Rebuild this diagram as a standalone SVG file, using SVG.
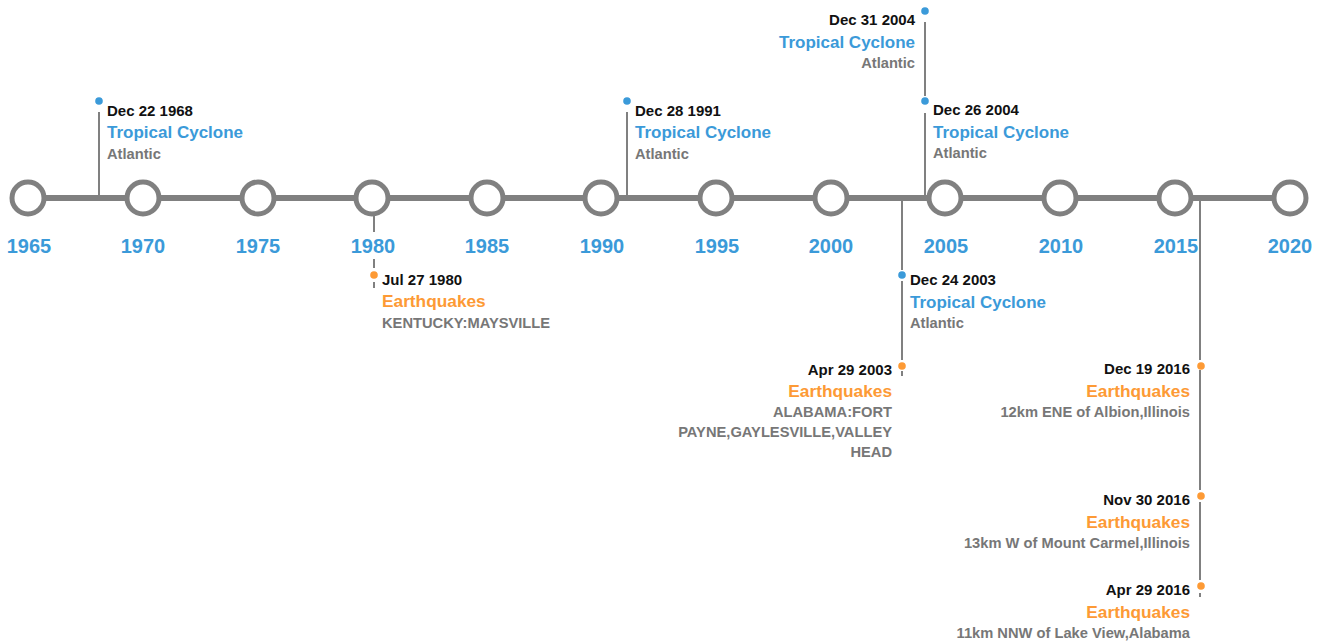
<svg xmlns="http://www.w3.org/2000/svg" width="1325" height="644" viewBox="0 0 1325 644">
<style>
text{font-family:"Liberation Sans",Arial,Helvetica,sans-serif;font-weight:bold}
.yr{font-size:20px;fill:#3b9ad9;text-anchor:middle}
.dt{font-size:15px;fill:#111}
.tb{font-size:17px;fill:#3b9ad9}
.to{font-size:17.3px;fill:#fd9a35}
.sb{font-size:14.7px;fill:#777}
.r{text-anchor:end}
.ring{fill:#fff;stroke:#808080;stroke-width:5}
.conn{stroke:#808080;stroke-width:2;fill:none}
.db{fill:#3b9ad9}
.do{fill:#fd9a35}
</style>
<rect width="1325" height="644" fill="#fff"/>
<g id="connectors">
<line class="conn" x1="99" y1="112" x2="99" y2="198"/>
<line class="conn" x1="627" y1="112" x2="627" y2="198"/>
<line class="conn" x1="374" y1="198" x2="374" y2="232"/>
<line class="conn" x1="374" y1="259" x2="374" y2="268"/>
<line class="conn" x1="374" y1="282" x2="374" y2="288"/>
<line class="conn" x1="902" y1="198" x2="902" y2="270"/>
<line class="conn" x1="902" y1="281" x2="902" y2="360"/>
<line class="conn" x1="902" y1="371" x2="902" y2="376"/>
<line class="conn" x1="925" y1="22" x2="925" y2="96"/>
<line class="conn" x1="925" y1="113" x2="925" y2="198"/>
<line class="conn" x1="1200" y1="195" x2="1200" y2="360"/>
<line class="conn" x1="1200" y1="370" x2="1200" y2="490"/>
<line class="conn" x1="1200" y1="502" x2="1200" y2="580"/>
<line class="conn" x1="1200" y1="593" x2="1200" y2="597"/>
</g>
<g id="axis">
<line x1="28" y1="198" x2="1290" y2="198" stroke="#808080" stroke-width="6"/>
<circle class="ring" cx="28" cy="198" r="16"/>
<circle class="ring" cx="143" cy="198" r="16"/>
<circle class="ring" cx="258" cy="198" r="16"/>
<circle class="ring" cx="372" cy="198" r="16"/>
<circle class="ring" cx="487" cy="198" r="16"/>
<circle class="ring" cx="601" cy="198" r="16"/>
<circle class="ring" cx="716" cy="198" r="16"/>
<circle class="ring" cx="831" cy="198" r="16"/>
<circle class="ring" cx="945" cy="198" r="16"/>
<circle class="ring" cx="1060" cy="198" r="16"/>
<circle class="ring" cx="1175" cy="198" r="16"/>
<circle class="ring" cx="1290" cy="198" r="16"/>
<text class="yr" x="29" y="253">1965</text>
<text class="yr" x="143" y="253">1970</text>
<text class="yr" x="258" y="253">1975</text>
<text class="yr" x="373" y="253">1980</text>
<text class="yr" x="487" y="253">1985</text>
<text class="yr" x="602" y="253">1990</text>
<text class="yr" x="717" y="253">1995</text>
<text class="yr" x="831" y="253">2000</text>
<text class="yr" x="946" y="253">2005</text>
<text class="yr" x="1061" y="253">2010</text>
<text class="yr" x="1176" y="253">2015</text>
<text class="yr" x="1290" y="253">2020</text>
</g>
<g id="ev-1968">
<circle class="db" cx="99" cy="101" r="3.8"/>
<text class="dt" x="107" y="116">Dec 22 1968</text>
<text class="tb" x="107" y="138">Tropical Cyclone</text>
<text class="sb" x="107" y="159">Atlantic</text>
</g>
<g id="ev-1980">
<circle class="do" cx="374" cy="275" r="3.8"/>
<text class="dt" x="382" y="285">Jul 27 1980</text>
<text class="to" x="382" y="307">Earthquakes</text>
<text class="sb" x="382" y="328">KENTUCKY:MAYSVILLE</text>
</g>
<g id="ev-1991">
<circle class="db" cx="627" cy="101" r="3.8"/>
<text class="dt" x="635" y="116">Dec 28 1991</text>
<text class="tb" x="635" y="138">Tropical Cyclone</text>
<text class="sb" x="635" y="159">Atlantic</text>
</g>
<g id="ev-2003-dec">
<circle class="db" cx="902" cy="275" r="3.8"/>
<text class="dt" x="910" y="285">Dec 24 2003</text>
<text class="tb" x="910" y="308">Tropical Cyclone</text>
<text class="sb" x="910" y="328">Atlantic</text>
</g>
<g id="ev-2003-apr">
<circle class="do" cx="902" cy="366" r="3.8"/>
<text class="dt r" x="892" y="375">Apr 29 2003</text>
<text class="to r" x="892" y="397">Earthquakes</text>
<text class="sb r" x="892" y="417">ALABAMA:FORT</text>
<text class="sb r" x="892" y="437">PAYNE,GAYLESVILLE,VALLEY</text>
<text class="sb r" x="892" y="457">HEAD</text>
</g>
<g id="ev-2004-dec31">
<circle class="db" cx="925" cy="11" r="3.8"/>
<text class="dt r" x="915" y="25">Dec 31 2004</text>
<text class="tb r" x="915" y="48">Tropical Cyclone</text>
<text class="sb r" x="915" y="68">Atlantic</text>
</g>
<g id="ev-2004-dec26">
<circle class="db" cx="925" cy="101" r="3.8"/>
<text class="dt" x="933" y="115">Dec 26 2004</text>
<text class="tb" x="933" y="138">Tropical Cyclone</text>
<text class="sb" x="933" y="158">Atlantic</text>
</g>
<g id="ev-2016-dec">
<circle class="do" cx="1201" cy="366" r="3.8"/>
<text class="dt r" x="1190" y="374">Dec 19 2016</text>
<text class="to r" x="1190" y="397">Earthquakes</text>
<text class="sb r" x="1190" y="417">12km ENE of Albion,Illinois</text>
</g>
<g id="ev-2016-nov">
<circle class="do" cx="1201" cy="496" r="3.8"/>
<text class="dt r" x="1190" y="505">Nov 30 2016</text>
<text class="to r" x="1190" y="528">Earthquakes</text>
<text class="sb r" x="1190" y="548">13km W of Mount Carmel,Illinois</text>
</g>
<g id="ev-2016-apr">
<circle class="do" cx="1201" cy="586" r="3.8"/>
<text class="dt r" x="1190" y="595">Apr 29 2016</text>
<text class="to r" x="1190" y="618">Earthquakes</text>
<text class="sb r" x="1190" y="638">11km NNW of Lake View,Alabama</text>
</g>
</svg>
